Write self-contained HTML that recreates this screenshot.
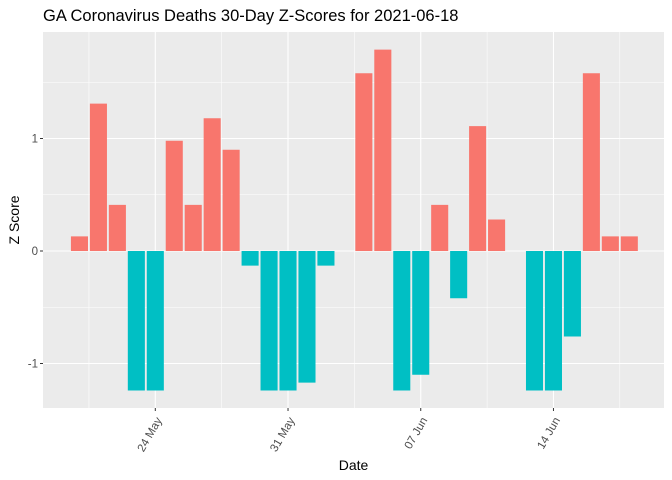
<!DOCTYPE html>
<html><head><meta charset="utf-8"><style>
body{margin:0;background:#fff;}
svg{display:block;font-family:"Liberation Sans",Arial,sans-serif;}
</style></head><body>
<svg id="chart" width="672" height="480"></svg>
<script>
const days = ["2021-05-20","2021-05-21","2021-05-22","2021-05-23","2021-05-24","2021-05-25","2021-05-26","2021-05-27","2021-05-28","2021-05-29","2021-05-30","2021-05-31","2021-06-01","2021-06-02","2021-06-03","2021-06-04","2021-06-05","2021-06-06","2021-06-07","2021-06-08","2021-06-09","2021-06-10","2021-06-11","2021-06-12","2021-06-13","2021-06-14","2021-06-15","2021-06-16","2021-06-17","2021-06-18"];
const zScores = [0.13,1.31,0.41,-1.24,-1.24,0.98,0.41,1.18,0.90,-0.13,-1.24,-1.24,-1.17,-0.13,0,1.58,1.79,-1.24,-1.10,0.41,-0.42,1.11,0.28,0,-1.24,-1.24,-0.76,1.58,0.13,0.13];
const xTickDates = ["2021-05-24","2021-05-31","2021-06-07","2021-06-14"];
const xTickLabels = ["24 May","31 May","07 Jun","14 Jun"];
const xMinorDates = ["2021-05-20T12:00","2021-05-27T12:00","2021-06-03T12:00","2021-06-10T12:00","2021-06-17T12:00"];
const yTicks = [-1,0,1];
const yMinor = [-0.5,0.5,1.5];

const NS="http://www.w3.org/2000/svg";
const svg=document.getElementById('chart');
const P={l:43,r:664,t:32,b:408};
const DAY=86400000;
const ref=Date.parse("2021-05-24T00:00:00Z");
function dnum(s){return Date.parse(s.length>10?s+":00Z":s+"T00:00:00Z");}
function xs(s){return 155.3+(dnum(s)-ref)/DAY*18.96;}
const Y0=251, YS=112.5;
function ys(v){return Y0-v*YS;}
function el(t,a,p){const e=document.createElementNS(NS,t);for(const k in a)e.setAttribute(k,a[k]);(p||svg).appendChild(e);return e;}

const bg=el('rect',{x:P.l,y:P.t,width:P.r-P.l,height:P.b-P.t,fill:'#EBEBEB'});


const grid=el('g',{});


yMinor.forEach(v=>el('line',{x1:P.l,x2:P.r,y1:ys(v),y2:ys(v),stroke:'#fff','stroke-width':0.55},grid));
xMinorDates.forEach(d=>el('line',{x1:xs(d),x2:xs(d),y1:P.t,y2:P.b,stroke:'#fff','stroke-width':0.55},grid));
yTicks.forEach(v=>el('line',{x1:P.l,x2:P.r,y1:ys(v),y2:ys(v),stroke:'#fff','stroke-width':1.1},grid));
xTickDates.forEach(d=>el('line',{x1:xs(d),x2:xs(d),y1:P.t,y2:P.b,stroke:'#fff','stroke-width':1.1},grid));

const bars=el('g',{});


const bw=18.96*0.9;
days.forEach((d,i)=>{
  const v=zScores[i]; if(v===0) return;
  const cx=xs(d);
  const r=el('rect',{x:cx-bw/2,y:Math.min(ys(v),Y0),width:bw,height:Math.abs(ys(v)-Y0),fill:v>0?'#F8766D':'#00BFC4'},bars);
  
  
});

yTicks.forEach(v=>{
  el('line',{x1:P.l-3,x2:P.l,y1:ys(v),y2:ys(v),stroke:'#333','stroke-width':1});
  const t=el('text',{x:P.l-5,y:ys(v)+4,'text-anchor':'end','font-size':11.5,fill:'#4D4D4D'});
  t.textContent=v;
  
  
});
xTickDates.forEach((d,i)=>{
  const x=xs(d);
  el('line',{x1:x,x2:x,y1:P.b,y2:P.b+3,stroke:'#333','stroke-width':1});
  const ax=x+7, ay=P.b+12;
  const t=el('text',{x:ax,y:ay,'text-anchor':'end','font-size':11.5,fill:'#4D4D4D',transform:`rotate(-60 ${ax} ${ay})`});
  t.textContent=xTickLabels[i];
  
  
});
const title=el('text',{x:43,y:21,'font-size':16.5,fill:'#000'});
title.textContent='GA Coronavirus Deaths 30-Day Z-Scores for 2021-06-18';


const xt=el('text',{x:(P.l+P.r)/2,y:470,'text-anchor':'middle','font-size':14,fill:'#000'});
xt.textContent='Date';


const yt=el('text',{x:19,y:220,'text-anchor':'middle','font-size':14,fill:'#000',transform:'rotate(-90 19 220)'});
yt.textContent='Z Score';


</script>
</body></html>
